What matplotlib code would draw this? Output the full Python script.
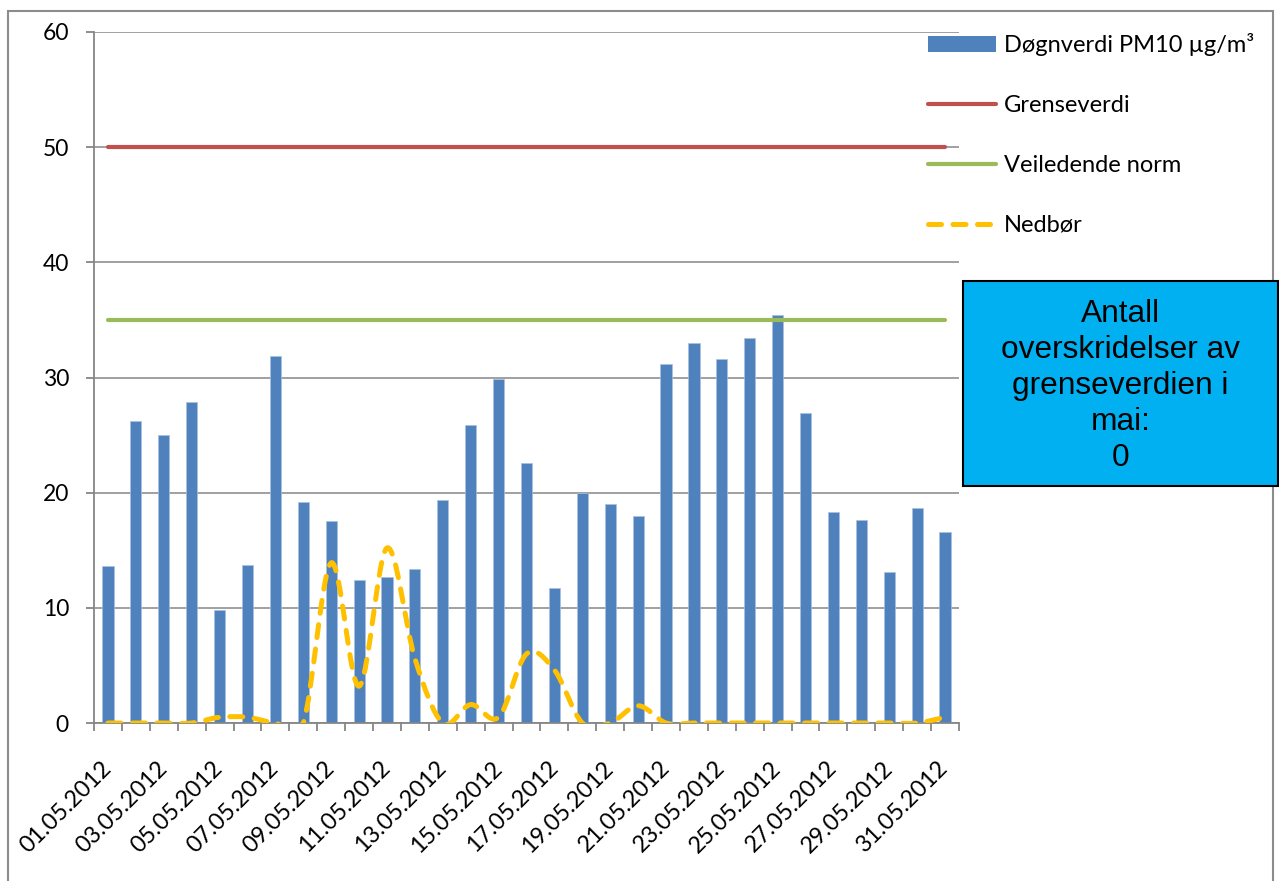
import numpy as np
import matplotlib
matplotlib.use("Agg")
import matplotlib.pyplot as plt
from matplotlib.path import Path
from matplotlib.patches import PathPatch, Rectangle, Patch
from matplotlib.lines import Line2D

# ---------------- data ----------------
dates = ["%02d.05.2012" % d for d in range(1, 32)]
pm10 = [13.6, 26.2, 25.0, 27.9, 9.8, 13.7, 31.9, 19.2, 17.5, 12.4,
        12.7, 13.4, 19.4, 25.9, 29.9, 22.6, 11.7, 20.0, 19.0, 18.0,
        31.2, 33.0, 31.6, 33.4, 35.4, 26.9, 18.3, 17.6, 13.1, 18.7, 16.6]
grenseverdi = [50] * 31
veiledende = [35] * 31
nedbor = [0, 0, 0, 0, 0.5, 0.5, 0, 0, 13.9, 3.2,
          15.2, 5.6, 0, 1.6, 0.5, 6.0, 4.6, 0, 0, 1.5,
          0, 0, 0, 0, 0, 0, 0, 0, 0, 0, 0.5]
ytick_vals = [0, 10, 20, 30, 40, 50, 60]
legend_labels = ["Døgnverdi PM10 µg/m³", "Grenseverdi", "Veiledende norm", "Nedbør"]
box_text = "Antall\noverskridelser av\ngrenseverdien i\nmai:\n0"

# ---------------- style ----------------
W, H = 1279, 881
fig = plt.figure(figsize=(W / 100, H / 100), dpi=100)
FONT = ["Lato", "DejaVu Sans"]
GRID = "#868686"

ax = fig.add_axes([94 / W, 1 - 723 / H, (959 - 94) / W, (723 - 32) / H])
x = np.arange(len(pm10))

ax.bar(x, pm10, width=0.4, color="#4F81BD", edgecolor="#A9C1E0", linewidth=0.5, zorder=2)
ax.plot(x, grenseverdi, color="#C0504D", lw=3.0, solid_capstyle="round", zorder=3)
ax.plot(x, veiledende, color="#9BBB59", lw=3.0, solid_capstyle="round", zorder=3)

# smoothed precipitation line (Bezier through the daily points)
pts = np.column_stack([x, nedbor]).astype(float)
n = len(pts)
verts = [tuple(pts[0])]
codes = [Path.MOVETO]
for i in range(n - 1):
    p_prev = pts[i - 1] if i > 0 else pts[i]
    p_next2 = pts[i + 2] if i + 2 < n else pts[i + 1]
    c1 = pts[i] + (pts[i + 1] - p_prev) / 6.0
    c2 = pts[i + 1] - (p_next2 - pts[i]) / 6.0
    verts += [tuple(c1), tuple(c2), tuple(pts[i + 1])]
    codes += [Path.CURVE4] * 3
rain = PathPatch(Path(verts, codes), facecolor="none", edgecolor="#FFC000",
                 lw=3.6, linestyle=(0, (2.6, 2.3)), zorder=4)
rain.set_capstyle("round")
ax.add_patch(rain)

ax.set_xlim(-0.5, len(pm10) - 0.5)
ax.set_ylim(0, 60)

# grid + spines
ax.set_yticks(ytick_vals)
ax.yaxis.grid(True, color=GRID, lw=1.1, zorder=0)
ax.set_axisbelow(True)
for s in ["top", "right"]:
    ax.spines[s].set_visible(False)
for s in ["left", "bottom"]:
    ax.spines[s].set_color(GRID)
    ax.spines[s].set_linewidth(1.3)
ax.tick_params(axis="y", direction="out", length=6, width=1.3, color=GRID,
               labelsize=16.5, pad=12)
for t in ax.get_yticklabels():
    t.set_fontfamily(FONT)

# x ticks at category boundaries, labels every other day
ax.set_xticks(np.arange(-0.5, len(pm10), 1.0))
ax.set_xticklabels([])
ax.tick_params(axis="x", which="major", direction="out", length=6, width=1.3, color=GRID)
ax.set_xticks(x[::2], minor=True)
ax.set_xticklabels(dates[::2], minor=True, rotation=45, ha="right", va="center",
                   rotation_mode="anchor", fontsize=16.8, family=FONT)
ax.tick_params(axis="x", which="minor", length=0, pad=30)

# legend
handles = [Patch(facecolor="#4F81BD", edgecolor="none"),
           Line2D([], [], color="#C0504D", lw=3.0, solid_capstyle="round"),
           Line2D([], [], color="#9BBB59", lw=3.0, solid_capstyle="round"),
           Line2D([], [], color="#FFC000", lw=3.6, linestyle=(0, (2.6, 2.3)),
                  dash_capstyle="round")]
leg = fig.legend(handles, legend_labels, loc="upper left",
                 bbox_to_anchor=(928 / W, 1 - 33 / H), frameon=False,
                 prop={"family": FONT, "size": 17}, handlelength=2.9,
                 handleheight=0.65, handletextpad=0.33, labelspacing=1.65,
                 borderpad=0, borderaxespad=0)

# figure border
fig.patches.append(Rectangle((8 / W, -0.01), (1273 - 8) / W, 1 - 11 / H + 0.01,
                             transform=fig.transFigure, fill=False,
                             edgecolor="#8C8C8C", lw=1.5, zorder=0))

# text box
fig.patches.append(Rectangle((963 / W, 1 - 486 / H), (1278 - 963) / W, (486 - 281) / H,
                             transform=fig.transFigure, facecolor="#00B0F0",
                             edgecolor="black", lw=1.5, zorder=5))
fig.text((963 + 1278) / 2 / W, 1 - 386 / H, box_text, ha="center", va="center",
         fontsize=22.8, family=["Liberation Sans", "DejaVu Sans"], linespacing=1.27,
         zorder=6)

fig.savefig("out.png", dpi=100)
